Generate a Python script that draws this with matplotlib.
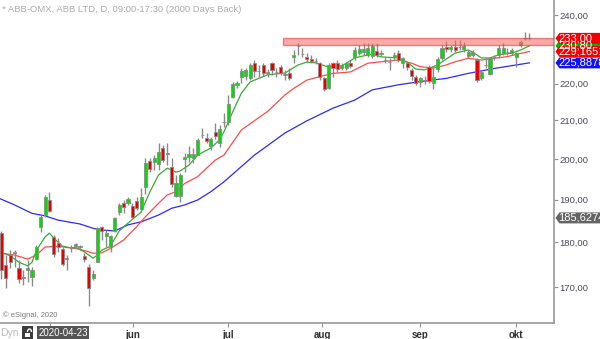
import matplotlib
matplotlib.use("Agg")
import matplotlib.pyplot as plt
from matplotlib.patches import Polygon, Rectangle, Arc
from matplotlib.ticker import FixedLocator, FuncFormatter, NullLocator
import numpy as np

plt.rcParams['font.family'] = ['Liberation Sans', 'DejaVu Sans']

# daily candles, ABB (OMX), from 2020-04-23
opens = [182.2, 174.9, 177.1, 177.5, 174.2, 172.3, 173.8, 172.2, 176.2, 183.4,
         186.3, 189.9, 181.2, 179.8, 178.5, 176.5, 178.6, 179.1, 178.9, 176.9,
         174.4, 172.0, 175.5, 183.4, 181.4, 178.9, 182.6, 187.0, 189.2, 189.2,
         188.4, 189.6, 187.7, 193.0, 199.5, 199.2, 198.7, 202.8, 201.2, 198.0,
         190.8, 190.8, 200.0, 200.5, 200.2, 201.0, 206.1, 205.4, 203.3, 206.9,
         204.1, 209.5, 209.6, 216.3, 219.7, 221.9, 222.2, 221.6, 225.9, 223.5,
         225.3, 223.0, 225.9, 223.2, 224.7, 222.6, 223.0, 227.6, 230.7, 228.5,
         227.6, 227.0, 226.3, 225.9, 221.6, 218.8, 225.9, 225.9, 224.4, 224.4,
         225.9, 227.6, 228.7, 229.0, 228.2, 227.9, 229.3, 228.4, 226.8, 226.0,
         227.6, 228.7, 225.9, 225.9, 223.9, 221.9, 220.5, 221.1, 224.7, 220.2,
         224.1, 227.3, 230.5, 229.9, 230.5, 230.4, 229.9, 227.9, 228.2, 226.7,
         221.6, 225.2, 222.7, 227.5, 228.2, 228.7, 228.9, 228.7, 227.6, 231.1,
         233.0, 233.1]
highs = [182.6, 177.1, 178.2, 178.2, 176.0, 173.8, 176.0, 174.4, 179.4, 186.3,
         191.1, 191.8, 181.7, 180.9, 178.9, 177.1, 179.4, 179.8, 179.4, 177.6,
         175.1, 173.8, 183.4, 183.7, 182.8, 181.7, 185.8, 189.2, 189.9, 190.6,
         189.2, 190.6, 192.8, 200.2, 200.2, 201.0, 204.1, 203.6, 204.1, 200.2,
         196.0, 196.5, 201.5, 203.3, 202.8, 205.4, 208.0, 206.7, 205.6, 209.3,
         208.8, 212.0, 216.9, 220.5, 220.8, 224.4, 224.4, 225.9, 226.7, 225.3,
         225.9, 224.1, 226.1, 224.4, 225.3, 223.9, 224.4, 229.6, 231.6, 230.2,
         228.7, 228.2, 227.3, 226.1, 221.9, 225.9, 226.1, 226.7, 225.9, 226.1,
         226.7, 230.5, 231.1, 231.6, 231.6, 231.6, 231.6, 229.6, 227.6, 227.3,
         229.0, 229.6, 227.6, 226.1, 224.4, 222.5, 221.9, 222.2, 225.3, 224.7,
         227.6, 231.1, 232.2, 231.1, 232.5, 232.5, 231.9, 229.6, 229.6, 227.3,
         223.9, 227.3, 227.6, 228.2, 231.1, 231.6, 230.2, 230.2, 229.0, 232.5,
         235.0, 234.7]
lows = [171.8, 169.9, 174.2, 174.4, 170.9, 170.5, 171.2, 170.3, 176.0, 182.3,
        185.8, 187.0, 176.7, 177.8, 174.7, 173.8, 177.8, 178.7, 178.2, 175.5,
        166.0, 171.6, 175.5, 180.5, 178.9, 177.8, 182.3, 186.3, 186.8, 188.7,
        185.6, 187.5, 187.0, 191.3, 196.7, 197.2, 197.2, 199.2, 198.5, 193.0,
        190.6, 189.4, 196.7, 199.2, 199.0, 201.0, 205.4, 204.1, 202.3, 205.1,
        203.1, 208.3, 208.8, 216.1, 218.8, 220.2, 221.0, 221.0, 221.9, 221.9,
        222.2, 221.9, 222.5, 221.9, 222.5, 221.0, 221.0, 225.9, 228.2, 227.6,
        226.1, 225.9, 225.6, 221.0, 218.0, 218.5, 221.9, 223.3, 223.9, 223.9,
        224.4, 226.7, 228.2, 228.2, 227.6, 227.3, 227.6, 227.9, 225.9, 223.9,
        226.7, 226.1, 224.4, 223.9, 221.0, 219.7, 219.1, 219.9, 220.2, 218.5,
        223.3, 226.7, 229.0, 229.0, 229.0, 229.6, 229.0, 227.3, 227.6, 220.5,
        221.0, 224.4, 222.5, 226.7, 227.3, 228.2, 228.2, 228.2, 224.7, 230.5,
        232.5, 232.5]
closes = [173.8, 172.0, 175.5, 177.7, 171.8, 172.1, 174.2, 173.8, 178.9, 185.8,
          190.6, 187.3, 177.3, 178.9, 175.1, 176.3, 178.8, 179.6, 179.1, 176.2,
          169.9, 172.9, 183.2, 182.6, 182.1, 181.4, 185.6, 188.7, 188.2, 190.1,
          185.8, 187.9, 190.6, 199.0, 197.5, 200.2, 201.8, 199.7, 201.4, 193.8,
          194.0, 196.0, 200.5, 201.3, 201.3, 204.9, 206.3, 204.6, 205.1, 205.9,
          207.7, 209.7, 214.4, 219.9, 220.2, 223.6, 223.9, 225.3, 223.6, 223.7,
          223.0, 223.3, 223.9, 223.4, 223.0, 222.4, 221.6, 228.2, 230.9, 228.3,
          227.0, 226.4, 226.5, 221.9, 218.5, 225.3, 224.4, 224.1, 225.3, 225.9,
          225.0, 229.6, 229.9, 229.9, 230.2, 230.8, 228.2, 228.7, 226.6, 226.2,
          228.2, 226.7, 227.3, 224.7, 222.2, 220.2, 221.6, 220.9, 220.8, 221.9,
          227.0, 230.2, 229.9, 230.5, 229.6, 230.6, 230.8, 229.0, 229.0, 221.0,
          223.3, 225.4, 227.3, 227.7, 230.2, 230.2, 229.1, 229.6, 228.7, 231.9,
          233.2, 233.0]

# moving averages (bar index, value)
ma_fast_x = [-1, 2, 4, 6, 7, 8, 10, 11, 12, 14, 16, 17, 19, 21, 22, 23, 25, 27, 29, 32,
             34, 36, 38, 40, 41, 43, 45, 48, 50, 51, 53, 55, 57, 61, 65, 68, 70, 72, 75, 76,
             78, 81, 83, 85, 87, 91, 93, 95, 97, 100, 102, 104, 107, 108, 110, 112, 114, 117, 119, 121]
ma_fast = [178.2, 176.9, 175.5, 174.7, 175.5, 178.2, 181.2, 182.1, 180.9, 179.1,
           178.7, 178.9, 177.8, 176.4, 177.1, 178.2, 179.1, 182.6, 184.4, 187.0,
           191.8, 196.0, 197.7, 196.7, 197.0, 198.5, 201.0, 202.8, 204.9, 207.0,
           212.3, 217.4, 220.5, 222.5, 223.0, 225.3, 226.1, 225.9, 224.7, 225.0,
           225.0, 227.3, 227.9, 228.4, 227.6, 227.3, 226.1, 224.1, 223.9, 225.3,
           227.0, 228.7, 229.6, 229.0, 227.3, 227.3, 228.2, 228.7, 229.6, 230.8]
ma_mid_x = [-1, 3, 6, 8, 10, 13, 15, 17, 19, 21, 23, 25, 28, 31, 33, 36, 38, 40, 42, 45,
            47, 49, 51, 55, 61, 65, 67, 70, 73, 76, 80, 84, 87, 91, 94, 96, 99, 102, 104, 107,
            110, 113, 116, 119, 121]
ma_mid = [177.6, 177.1, 176.2, 177.1, 178.9, 179.1, 178.8, 178.6, 178.1, 177.5,
          177.6, 178.6, 180.5, 183.6, 185.9, 189.1, 191.1, 191.9, 193.9, 195.6,
          197.7, 199.7, 201.0, 207.5, 212.4, 216.9, 218.7, 221.0, 222.0, 222.9,
          223.3, 225.8, 226.2, 226.7, 225.8, 224.8, 224.4, 225.3, 226.2, 227.2,
          226.7, 227.2, 227.7, 228.6, 229.16513]
ma_slow_x = [-1, 3, 7, 10, 13, 18, 21, 23, 26, 29, 32, 36, 39, 42, 45, 48, 51, 58, 65, 70,
             76, 81, 85, 91, 96, 102, 107, 113, 121]
ma_slow = [190.5, 188.7, 186.7, 186.1, 185.1, 184.2, 183.2, 182.8, 182.6, 184.0,
           184.7, 186.3, 187.9, 188.7, 189.9, 191.9, 194.3, 201.0, 206.7, 209.9,
           213.3, 215.5, 218.3, 219.7, 220.6, 221.5, 222.9, 224.3, 225.8878]

resistance = (231.0, 233.0)
resistance_start = 64.5
extra_tag = 185.62745

y_ticks = [170, 180, 190, 200, 210, 220, 240]
month_pos = [11.1, 30.1, 51.9, 73.5, 95.9, 117.9]
month_labels = ['', 'jun', 'jul', 'aug', 'sep', 'okt']

W, H = 600, 339
fig = plt.figure(figsize=(W / 100, H / 100), dpi=100)
ax = fig.add_axes([0, 16 / H, 554 / W, 323 / H])
ax.set_yscale('log')
ax.set_ylim(162.5, 244.6)
ax.set_xlim(-0.34, 126.66)

# moving averages
ax.plot(ma_slow_x, ma_slow, color='#2a2aff', lw=0.9, zorder=2)
ax.plot(ma_mid_x, ma_mid, color='#ff4a4a', lw=0.9, zorder=2)
ax.plot(ma_fast_x, ma_fast, color='#3aaa3a', lw=0.9, zorder=2)

# candles
x = np.arange(len(opens))
o = np.array(opens)
c = np.array(closes)
cols = np.where(c >= o, '#00e000', '#e60000')
ax.vlines(x, lows, highs, color='#8a8a8a', lw=1.0, zorder=3)
ax.bar(x, c - o, bottom=o, width=0.72, color=cols, edgecolor='#8a8a8a',
       linewidth=0.6, zorder=4)

# resistance band
ax.add_patch(Rectangle((resistance_start, resistance[0]), 130 - resistance_start,
                       resistance[1] - resistance[0], facecolor='#ff6262', alpha=0.55,
                       edgecolor='#e03030', lw=1.0, zorder=5))

# axes styling
for s in ['left', 'top']:
    ax.spines[s].set_visible(False)
for s in ['right', 'bottom']:
    ax.spines[s].set_color('#a0a0a0')
    ax.spines[s].set_linewidth(1.3)
ax.yaxis.tick_right()
ax.yaxis.set_major_locator(FixedLocator(y_ticks))
ax.yaxis.set_minor_locator(NullLocator())
ax.yaxis.set_major_formatter(FuncFormatter(lambda v, p: f"{v:.2f}".replace('.', ',')))
ax.tick_params(axis='y', direction='out', length=3, width=0.8, color='#909090',
               labelsize=6.8, labelcolor='#4a4a5a', pad=1)
ax.set_xticks(month_pos)
ax.set_xticklabels(month_labels)
ax.tick_params(axis='x', direction='out', length=3, width=0.8, color='#909090',
               labelsize=7, labelcolor='#303030', pad=2)
for lab in ax.get_xticklabels():
    lab.set_fontweight('bold')


def price_tag(value, label, fc):
    ypx = ax.transData.transform((0, value))[1]
    x0 = ax.transAxes.transform((1, 0))[0]
    h = 5.5
    pts = [(x0 + 1.5, ypx), (x0 + 5.5, ypx + h), (W + 5, ypx + h),
           (W + 5, ypx - h), (x0 + 5.5, ypx - h)]
    fig.add_artist(Polygon([(px / W, py / H) for px, py in pts], closed=True,
                           transform=fig.transFigure, facecolor=fc, edgecolor='none'))
    fig.text((x0 + 4) / W, ypx / H, label, color='white', fontsize=8,
             va='center', ha='left')


price_tag(ma_fast[-1], f"{ma_fast[-1]:.2f}".replace('.', ','), '#00b400')
price_tag(resistance[1], f"{resistance[1]:.2f}".replace('.', ','), '#f20000')
price_tag(ma_mid[-1], f"{ma_mid[-1]:.5f}".replace('.', ','), '#f20000')
price_tag(ma_slow[-1], f"{ma_slow[-1]:.5f}".replace('.', ','), '#1010ff')
price_tag(extra_tag, f"{extra_tag:.5f}".replace('.', ','), '#646464')

# header, footer and date bar
fig.text(2 / W, (H - 10) / H, '* ABB-OMX, ABB LTD, D, 09:00-17:30 (2000 Days Back)',
         fontsize=6.8, color='#ababab', va='center')
fig.text(3 / W, (H - 315) / H, '\u00a9 eSignal, 2020', fontsize=5.5,
         color='#7a7a7a', va='center')
fig.text(0.5 / W, (H - 333) / H, 'Dyn', fontsize=7.5, color='#bcbcbc', va='center')
fig.add_artist(Rectangle((22 / W, 0), 11 / W, 13 / H, transform=fig.transFigure,
                         facecolor='#3c3c3c', edgecolor='none'))
fig.add_artist(Rectangle((24.5 / W, 2 / H), 5 / W, 4.5 / H, transform=fig.transFigure,
                         facecolor='white', edgecolor='none'))
fig.add_artist(Arc((29.5 / W, 7 / H), 4 / W, 6 / H, theta1=0, theta2=180,
                   transform=fig.transFigure, color='white', lw=1.0))
fig.add_artist(Rectangle((37 / W, 0), 52 / W, 13 / H, transform=fig.transFigure,
                         facecolor='#555555', edgecolor='none'))
fig.text(63 / W, 6.5 / H, '2020-04-23', fontsize=7, color='white', ha='center',
         va='center')

fig.savefig('out.png', dpi=100)
